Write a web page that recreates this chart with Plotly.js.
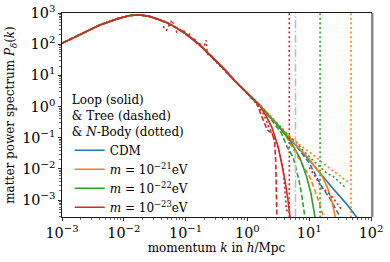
<!DOCTYPE html>
<html><head><meta charset="utf-8">
<script src="https://cdn.plot.ly/plotly-3.0.1.min.js"></script>
<style>html,body{margin:0;padding:0;background:#fff}#c{width:390px;height:262px}</style>
</head><body><div id="c"></div>
<script>
// common (all models coincide) low-k part of the spectrum
var kCommon = [0.001,0.002,0.004,0.008,0.0126,0.0178,0.025,0.035,0.05,0.07,0.1,0.16,0.25,0.4,0.63,1.0,1.6];
var pCommon = [107,214,407,660,832,871,794,646,490,339,219,105,45.7,17.8,6.6,2.63,1.07];

// high-k tails (loop = solid, tree = dashed)
var kCdmLoop = [2.5,4,6.3,10,16,25,40,59,70];
var pCdmLoop = [0.40,0.148,0.054,0.0195,0.0063,0.0022,0.00076,0.00029,0.00018];
var kCdmTree = [2.5,4,6.3,10,15.8,22.4,31.6,40];
var pCdmTree = [0.40,0.148,0.052,0.0158,0.0028,0.001,0.00029,0.00013];

var kM21Loop = [2.5,4,6.3,10,15.8,20,23.4,27,29.5];
var pM21Loop = [0.40,0.148,0.054,0.0209,0.0063,0.0024,0.00089,0.00029,0.0001];
var kM21Tree = [2.5,4,5.5,10.2,11.2,14.1,17,19];
var pM21Tree = [0.40,0.132,0.045,0.0055,0.0035,0.001,0.00029,0.00013];

var kM22Loop = [2.5,3.16,5.0,7.1,9.1,10.7,12.4,13.2];
var pM22Loop = [0.40,0.24,0.076,0.0224,0.0055,0.0016,0.00029,0.00013];
var kM22Tree = [2.5,3.55,4.37,5.5,6.8,7.6,8.5,8.9];
var pM22Tree = [0.355,0.141,0.052,0.024,0.0045,0.0014,0.00029,0.00013];

var kM23Loop = [2.0,2.47,3.16,4.05,4.47,4.89,5.0];
var pM23Loop = [0.50,0.224,0.05,0.0044,0.00126,0.00038,0.0002];
var kM23Tree = [1.41,1.78,2.09,2.51,2.75,2.88,2.95,3.0];
var pM23Tree = [1.26,0.40,0.178,0.141,0.079,0.0158,0.0025,0.00025];

// N-body (dotted)
var kNbM23 = [0.043,0.049,0.060,0.072,0.081,0.095,0.105,0.115,0.126,0.138,0.151,0.166,0.178,0.195,0.214,0.224,0.240,0.263,0.282,0.302,0.331,0.363,0.398,0.437,0.479,0.525,0.575,0.631,0.69,0.76,0.83,0.91,1.0,1.12,1.26,1.41,1.58,1.78,2.0,2.24,2.4,2.8,3.3,3.8,4.27,4.57];
var pNbM23 = [372,282,589,245,295,263,178,209,151,158,105,115,83,76,132,52,40,42,33,29.5,23,20,16.6,13.5,11.5,9.5,7.9,6.6,5.4,4.6,3.8,3.2,2.6,2.1,1.6,1.2,0.89,0.63,0.38,0.20,0.166,0.089,0.035,0.01,0.0005,0.0004];
var kNbM22 = [1.1,1.6,2.5,3.16,4.0,5.0,6.3,7.9,10,12.6,15.1,19,25,35.5,38];
var pNbM22 = [2.0,1.1,0.42,0.26,0.15,0.1,0.07,0.04,0.025,0.0158,0.011,0.0074,0.0056,0.0028,0.0026];
var kNbM21 = [1.6,2.5,4.0,5.6,7.1,10,12.6,17,22.4,28.2,35.5,43];
var pNbM21 = [1.12,0.44,0.158,0.083,0.058,0.035,0.025,0.0148,0.01,0.0071,0.005,0.0038];
var kNbHigh = [10,12.6,15.8,20,25,33.9];
var pNbHigh = [0.0112,0.0056,0.0025,0.0018,0.0011,0.00048];

// Nyquist-like cutoffs (vertical lines)
var kCutM23 = 4.76, kCutGrey = 6.0, kCutM22 = 15.0, kCutM21 = 47.5;

// tick labels
var tickAlias = {'1':'10<sup>0</sup>', '10':'10<sup>1</sup>', '0.1':'10<sup>−1</sup>'};

var C = {cdm:'#1f77b4', m21:'#ff7f0e', m22:'#2ca02c', m23:'#d62728'};
var legendNames = ['CDM','<i>m</i> = 10<sup>−21</sup>eV','<i>m</i> = 10<sup>−22</sup>eV','<i>m</i> = 10<sup>−23</sup>eV'];
var legendTitle = 'Loop (solid)<br>& Tree (dashed)<br>& <i>N</i>-Body (dotted)';

function full(kt, pt){ return {x: kCommon.concat(kt), y: pCommon.concat(pt)}; }
var DOT = '2px,2.6px';
var traces = [];
function line(d, color, dash, name, show){
  traces.push({x:d.x, y:d.y, mode:'lines', name:name||'', showlegend:!!show,
    line:{color:color, width:1.6, dash:dash||'solid'}, hoverinfo:'skip'});
}
var cl = full(kCdmLoop,pCdmLoop), ct = full(kCdmTree,pCdmTree);
var al = full(kM21Loop,pM21Loop), at = full(kM21Tree,pM21Tree);
var gl = full(kM22Loop,pM22Loop), gt = full(kM22Tree,pM22Tree);
var rl = full(kM23Loop,pM23Loop), rt = full(kM23Tree,pM23Tree);

line(ct, C.cdm, '5px,2.5px');
line(at, C.m21, '5px,2.5px');
line(gt, C.m22, '5px,2.5px');
line(rt, C.m23, '5px,2.5px');
line(cl, C.cdm, 'solid', legendNames[0], true);
line(al, C.m21, 'solid', legendNames[1], true);
line(gl, C.m22, 'solid', legendNames[2], true);
line(rl, C.m23, 'solid', legendNames[3], true);
line({x:kNbM21,y:pNbM21}, C.m21, DOT);
line({x:kNbM22,y:pNbM22}, C.m22, DOT);
line({x:kNbHigh,y:pNbHigh}, C.m23, DOT);
line({x:kNbM23,y:pNbM23}, C.m23, DOT);

var yv = [1e-4, 1e4];
line({x:[kCutM23,kCutM23], y:yv}, C.m23, DOT);
traces.push({x:[kCutGrey,kCutGrey], y:yv, mode:'lines', showlegend:false, hoverinfo:'skip',
  line:{color:'#bdbdbd', width:1.6, dash:'8px,2.5px,1.5px,2.5px'}});
line({x:[kCutM22,kCutM22], y:yv}, C.m22, DOT);
line({x:[kCutM21,kCutM21], y:yv}, C.m21, DOT);

var F = '"DejaVu Serif", serif';
var axBase = {type:'log', dtick:1, exponentformat:'power', labelalias:tickAlias, showgrid:false, zeroline:false,
  ticks:'outside', ticklen:3.5, tickwidth:0.8, tickcolor:'#000', showline:true, linecolor:'#000', linewidth:0.9,
  mirror:true, tickfont:{family:F, size:11.5, color:'#000'},
  minor:{ticks:'outside', ticklen:2, tickwidth:0.6, tickcolor:'#000', dtick:'D1', showgrid:false}};

var layout = {
  width:390, height:262, margin:{l:62, r:19, t:13, b:45},
  paper_bgcolor:'#fff', plot_bgcolor:'#fff', font:{family:F, color:'#000', size:12},
  xaxis: Object.assign({}, axBase, {range:[-3,2],
    title:{text:'momentum <i>k</i> in <i>h</i>/Mpc', font:{family:F,size:12}, standoff:3}}),
  yaxis: Object.assign({}, axBase, {range:[-3.54,3],
    title:{text:'matter power spectrum <i>P</i><sub><i>δ</i></sub>(<i>k</i>)', font:{family:F,size:12}, standoff:4}}),
  legend:{x:0.025, y:0.628, xanchor:'left', yanchor:'top', bgcolor:'rgba(255,255,255,0)', borderwidth:0,
    font:{family:F, size:12}, itemwidth:30, tracegroupgap:0,
    title:{text:legendTitle, side:'top', font:{family:F,size:12}}},
  shapes:[{type:'line', xref:'paper', yref:'paper', x0:1.004, x1:1.004, y0:0, y1:1, line:{color:'#888', width:2.5}}],
  showlegend:true
};
Plotly.newPlot('c', traces, layout, {staticPlot:true});
</script></body></html>
